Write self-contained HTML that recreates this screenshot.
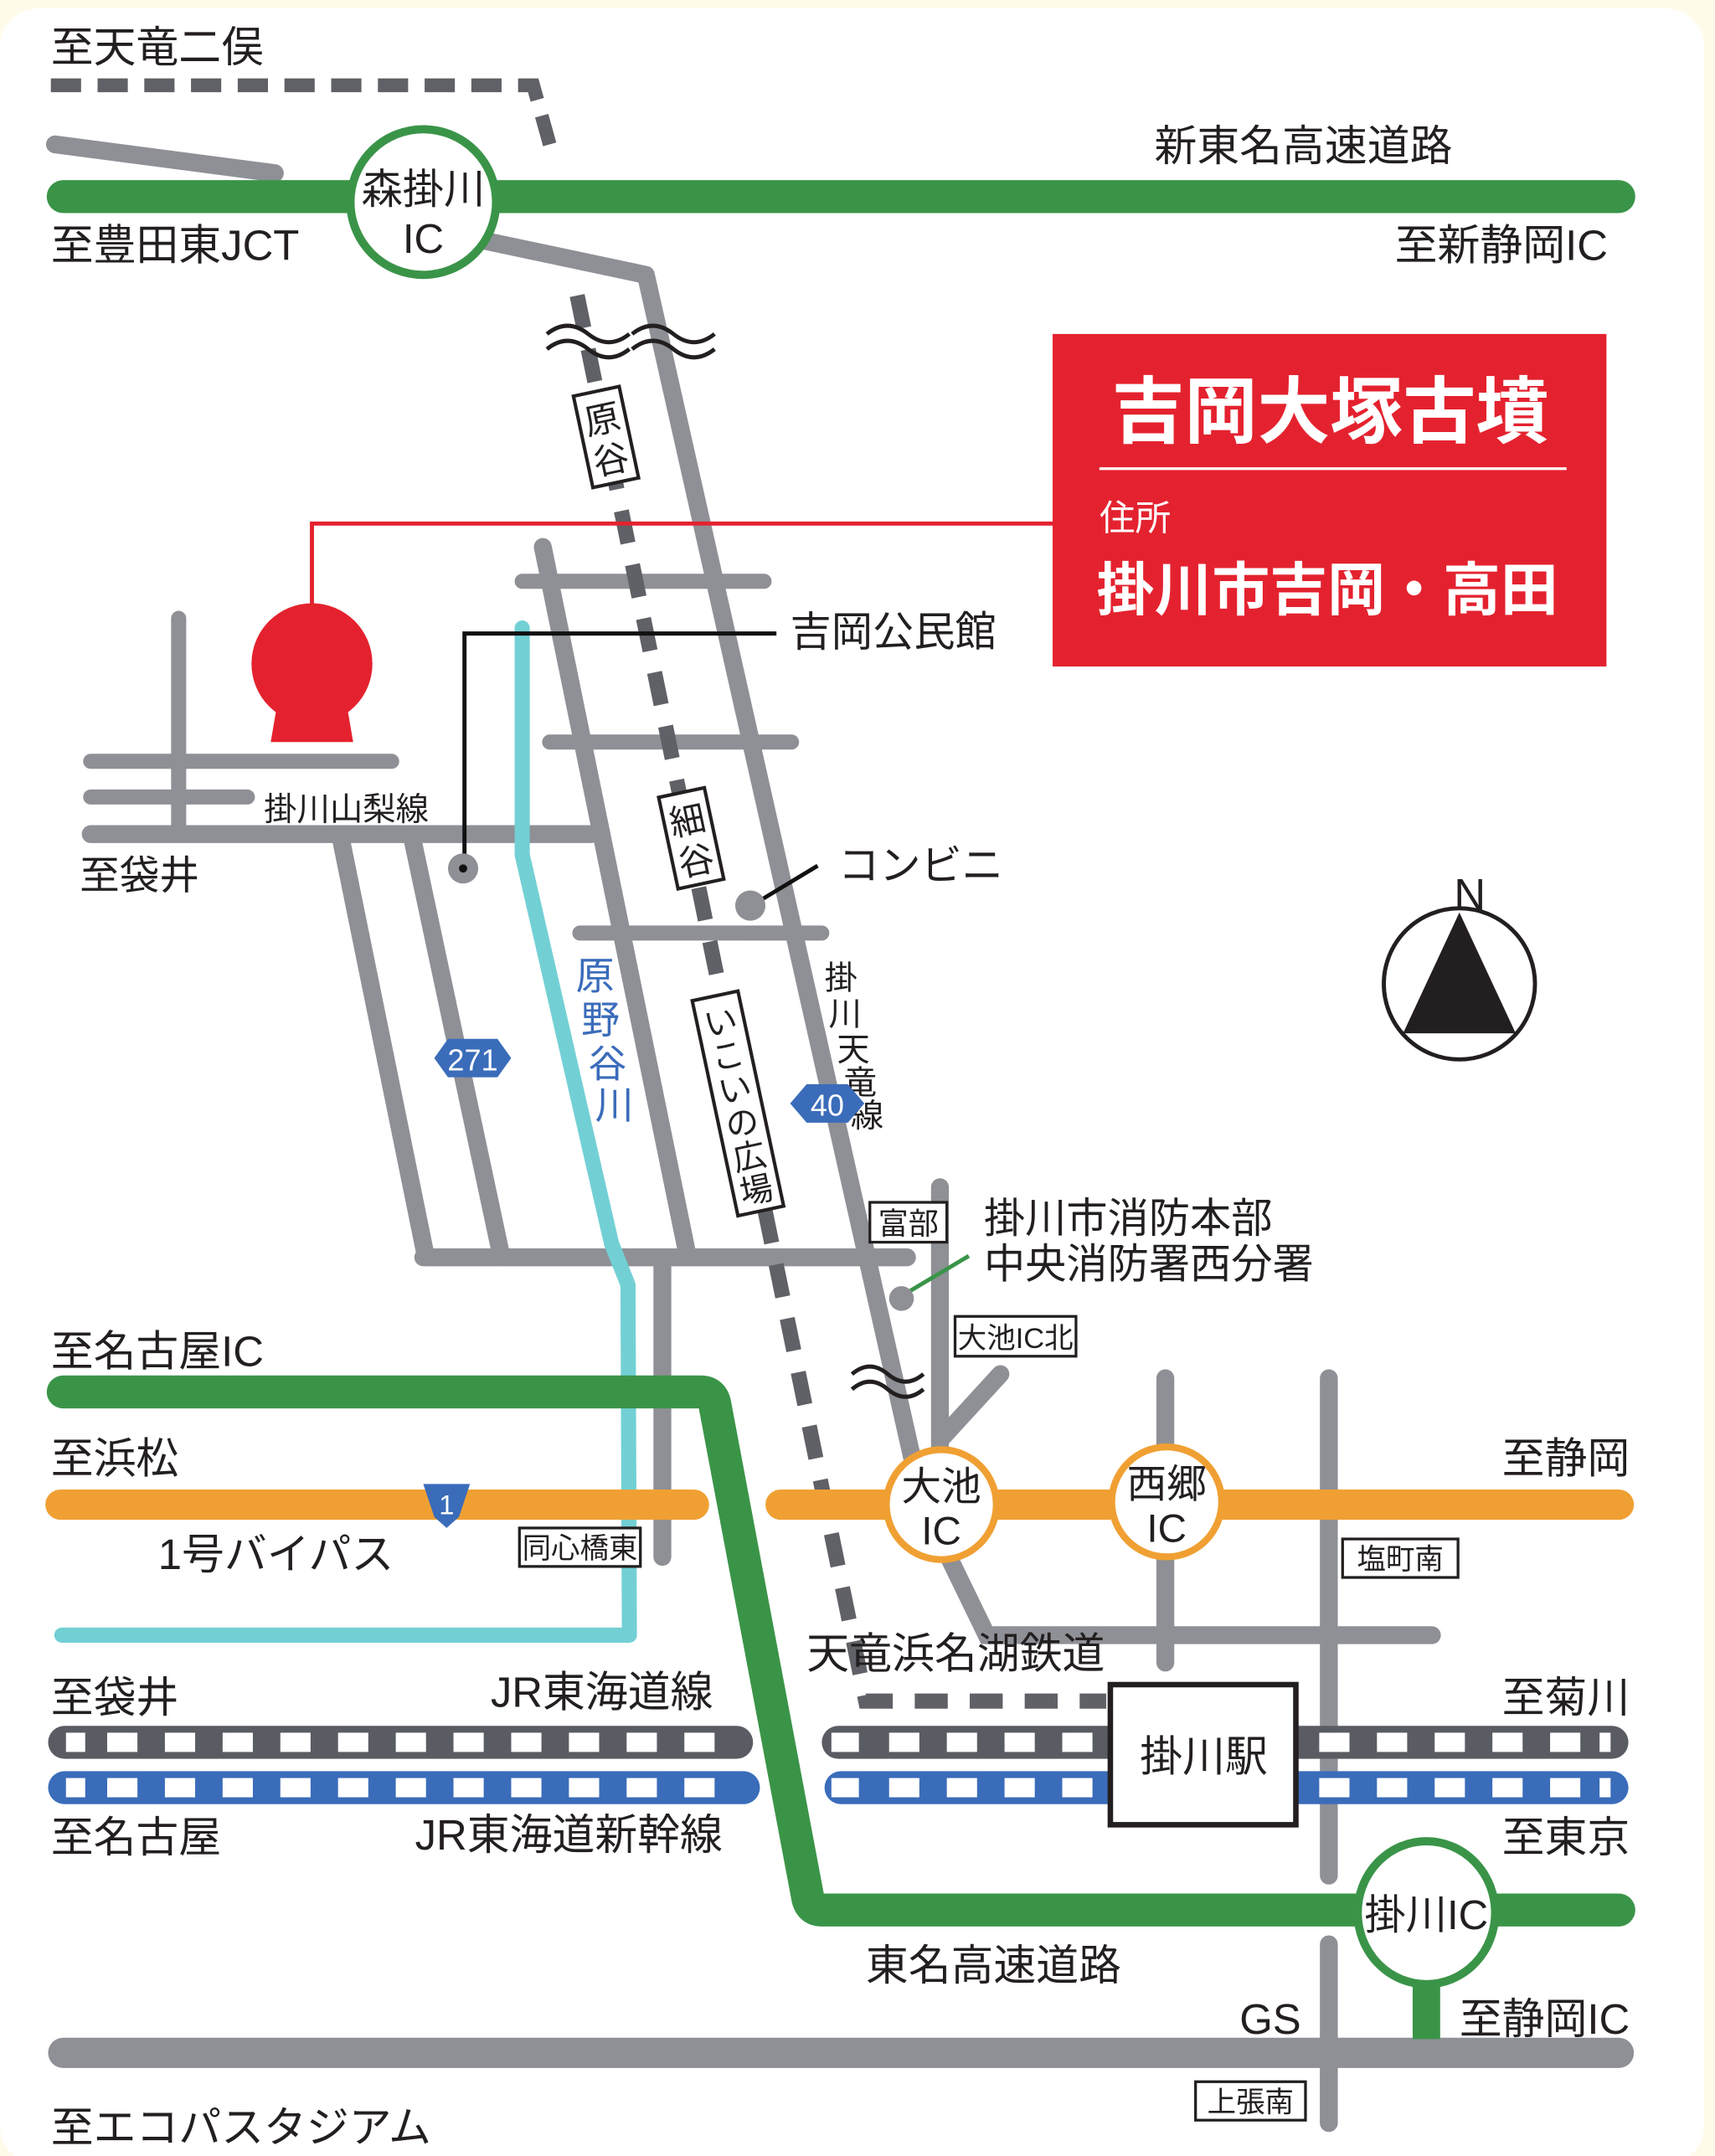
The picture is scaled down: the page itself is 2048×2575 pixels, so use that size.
<!DOCTYPE html>
<html><head><meta charset="utf-8"><style>
html,body{margin:0;padding:0;background:#fff;}
svg{display:block;}
text{font-family:"Liberation Sans","Noto Sans CJK JP",sans-serif;fill:#231f20;}
</style></head><body>
<svg width="2048" height="2575" viewBox="0 0 1248 1569" xmlns="http://www.w3.org/2000/svg">
<rect x="0" y="0" width="1248" height="1569" fill="#fffbea"/>
<rect x="0" y="6" width="1240" height="1569" rx="28" fill="#fff"/>

<polyline points="37,62 388,62 400,105" fill="none" stroke="#5f6166" stroke-width="10" stroke-dasharray="22 12"/>
<line x1="40" y1="105" x2="200" y2="126" stroke="#8e9096" stroke-width="13" stroke-linecap="round"/>

<polyline points="352,175 470,200 664,1062" fill="none" stroke="#8e9096" stroke-width="13" stroke-linejoin="round"/>
<polyline points="684,1120 718,1190 1042,1190" fill="none" stroke="#8e9096" stroke-width="13" stroke-linecap="round"/>

<g stroke="#8e9096" stroke-width="11" stroke-linecap="round">
<line x1="380" y1="423" x2="556" y2="423"/>
<line x1="400" y1="540" x2="576" y2="540"/>
<line x1="422" y1="679" x2="598" y2="679"/>
<line x1="130" y1="450" x2="130" y2="605"/>
<line x1="66" y1="554" x2="285" y2="554"/>
<line x1="66" y1="580" x2="180" y2="580"/>
</g>
<g stroke="#8e9096" stroke-width="13" stroke-linecap="round">
<line x1="66" y1="607" x2="430" y2="607"/>
<line x1="248" y1="610" x2="310" y2="915"/>
<line x1="300" y1="610" x2="365" y2="915"/>
<line x1="395" y1="398" x2="500" y2="912"/>
<line x1="308" y1="915" x2="660" y2="915"/>
<line x1="482" y1="915" x2="482" y2="1133"/>
<line x1="684" y1="864" x2="684" y2="1090"/>
<line x1="684" y1="1048" x2="728" y2="1000"/>
<line x1="848" y1="1003" x2="848" y2="1210"/>
<line x1="967" y1="1003" x2="967" y2="1365"/>
<line x1="967" y1="1415" x2="967" y2="1545"/>
</g>

<polyline points="380,457 380,622 445,905 457,935 458,1190 45,1190" fill="none" stroke="#72d0d4" stroke-width="11" stroke-linejoin="round" stroke-linecap="round"/>

<polyline points="420,215 630,1238 805,1238" fill="none" stroke="#5f6166" stroke-width="11" stroke-dasharray="24 16"/>

<g fill="none" stroke="#231f20" stroke-width="3">
<path d="M398,243 q15,-12 30,0 t30,0"/><path d="M398,254 q15,-12 30,0 t30,0"/>
<path d="M460,243 q15,-12 30,0 t30,0"/><path d="M460,254 q15,-12 30,0 t30,0"/>
<path d="M620,1000 q13,-11 26,0 t26,0"/><path d="M620,1011 q13,-11 26,0 t26,0"/>
</g>

<g transform="translate(441,318) rotate(-12)"><rect x="-17" y="-34" width="34" height="68" fill="#fff" stroke="#231f20" stroke-width="2.5"/><text x="0" y="-4" font-size="26" text-anchor="middle">原</text><text x="0" y="26" font-size="26" text-anchor="middle">谷</text></g>
<g transform="translate(503,610) rotate(-12)"><rect x="-17" y="-34" width="34" height="68" fill="#fff" stroke="#231f20" stroke-width="2.5"/><text x="0" y="-4" font-size="26" text-anchor="middle">細</text><text x="0" y="26" font-size="26" text-anchor="middle">谷</text></g>
<g transform="translate(537,803) rotate(-12)"><rect x="-17" y="-80" width="34" height="160" fill="#fff" stroke="#231f20" stroke-width="2.5"/>
<text x="0" y="-52" font-size="24" text-anchor="middle">い</text><text x="0" y="-27" font-size="24" text-anchor="middle">こ</text><text x="0" y="-2" font-size="24" text-anchor="middle">い</text><text x="0" y="23" font-size="24" text-anchor="middle">の</text><text x="0" y="48" font-size="24" text-anchor="middle">広</text><text x="0" y="73" font-size="24" text-anchor="middle">場</text></g>

<g font-size="28">
<text x="419" y="720" style="fill:#3a6cba">原</text><text x="423" y="752" style="fill:#3a6cba">野</text><text x="428" y="784" style="fill:#3a6cba">谷</text><text x="433" y="814" style="fill:#3a6cba">川</text>
</g>
<g font-size="24"><text x="600" y="720">掛</text><text x="603" y="746">川</text><text x="609" y="772">天</text><text x="614" y="796">竜</text><text x="619" y="820">線</text></g>

<polygon points="316,770 326,756 362,756 372,770 362,784 326,784" fill="#3a6cba"/>
<text x="344" y="779" font-size="22" text-anchor="middle" style="fill:#fff">271</text>
<polygon points="575,803 587,789 617,789 629,803 617,817 587,817" fill="#3a6cba"/>
<text x="602" y="812" font-size="22" text-anchor="middle" style="fill:#fff">40</text>

<polyline points="565,461 338,461 338,630" fill="none" stroke="#111" stroke-width="3"/>
<circle cx="337" cy="632" r="11" fill="#8e9096"/><circle cx="337" cy="632" r="3" fill="#111"/>
<line x1="595" y1="630" x2="547" y2="659" stroke="#111" stroke-width="3"/>
<circle cx="546" cy="659" r="11" fill="#8e9096"/>
<text x="575" y="470" font-size="30">吉岡公民館</text>
<text x="610" y="640" font-size="30">コンビニ</text>
<text x="192" y="597" font-size="24">掛川山梨線</text>
<text x="58" y="647" font-size="29">至袋井</text>

<polyline points="227,442 227,381 770,381" fill="none" stroke="#e4222f" stroke-width="3"/>
<circle cx="227" cy="483" r="44" fill="#e4222f"/>
<polygon points="203,505 251,505 257,540 197,540" fill="#e4222f"/>
<rect x="766" y="243" width="403" height="242" fill="#e4222f"/>
<text x="968" y="318" font-size="53" font-weight="bold" text-anchor="middle" style="fill:#fff">吉岡大塚古墳</text>
<line x1="800" y1="341" x2="1140" y2="341" stroke="#fff" stroke-width="2"/>
<text x="800" y="386" font-size="26" style="fill:#fff">住所</text>
<text x="798" y="444" font-size="42" font-weight="bold" style="fill:#fff">掛川市吉岡・高田</text>

<circle cx="1062" cy="716" r="55" fill="#fff" stroke="#231f20" stroke-width="3"/>
<polygon points="1062,664 1021,752 1103,752" fill="#231f20"/>
<text x="1058" y="662" font-size="32">N</text>

<rect x="633" y="875" width="56" height="29" fill="#fff" stroke="#231f20" stroke-width="2"/>
<text x="661" y="898" font-size="22" text-anchor="middle">富部</text>
<line x1="705" y1="914" x2="658" y2="942" stroke="#3a9448" stroke-width="3"/>
<circle cx="656" cy="945" r="9" fill="#8e9096"/>
<text x="716" y="897" font-size="30">掛川市消防本部</text>
<text x="716" y="930" font-size="30">中央消防署西分署</text>
<rect x="695" y="958" width="88" height="29" fill="#fff" stroke="#231f20" stroke-width="2"/>
<text x="739" y="981" font-size="21" text-anchor="middle">大池IC北</text>

<g stroke="#f0a033" stroke-width="22" stroke-linecap="round">
<line x1="44" y1="1095" x2="505" y2="1095"/>
<line x1="568" y1="1095" x2="1178" y2="1095"/>
</g>
<polygon points="308,1080 342,1080 334,1104 325,1112 316,1104" fill="#3a6cba"/>
<text x="325" y="1102" font-size="20" text-anchor="middle" style="fill:#fff">1</text>

<g>
<rect x="35" y="1256" width="513" height="24" rx="12" fill="#5a5c63"/>
<rect x="598" y="1256" width="587" height="24" rx="12" fill="#5a5c63"/>
<rect x="35" y="1289" width="518" height="24" rx="12" fill="#3a6cba"/>
<rect x="600" y="1289" width="585" height="24" rx="12" fill="#3a6cba"/>
<g fill="#fff">
<rect x="48" y="1261" width="14" height="14"/><rect x="78" y="1261" width="22" height="14"/><rect x="120" y="1261" width="22" height="14"/><rect x="162" y="1261" width="22" height="14"/><rect x="204" y="1261" width="22" height="14"/><rect x="246" y="1261" width="22" height="14"/><rect x="288" y="1261" width="22" height="14"/><rect x="330" y="1261" width="22" height="14"/><rect x="372" y="1261" width="22" height="14"/><rect x="414" y="1261" width="22" height="14"/><rect x="456" y="1261" width="22" height="14"/><rect x="498" y="1261" width="22" height="14"/>
<rect x="48" y="1294" width="14" height="14"/><rect x="78" y="1294" width="22" height="14"/><rect x="120" y="1294" width="22" height="14"/><rect x="162" y="1294" width="22" height="14"/><rect x="204" y="1294" width="22" height="14"/><rect x="246" y="1294" width="22" height="14"/><rect x="288" y="1294" width="22" height="14"/><rect x="330" y="1294" width="22" height="14"/><rect x="372" y="1294" width="22" height="14"/><rect x="414" y="1294" width="22" height="14"/><rect x="456" y="1294" width="22" height="14"/><rect x="498" y="1294" width="22" height="14"/>
<rect x="605" y="1261" width="20" height="14"/><rect x="647" y="1261" width="22" height="14"/><rect x="689" y="1261" width="22" height="14"/><rect x="731" y="1261" width="22" height="14"/><rect x="773" y="1261" width="22" height="14"/>
<rect x="605" y="1294" width="20" height="14"/><rect x="647" y="1294" width="22" height="14"/><rect x="689" y="1294" width="22" height="14"/><rect x="731" y="1294" width="22" height="14"/><rect x="773" y="1294" width="22" height="14"/>
<rect x="960" y="1261" width="22" height="14"/><rect x="1002" y="1261" width="22" height="14"/><rect x="1044" y="1261" width="22" height="14"/><rect x="1086" y="1261" width="22" height="14"/><rect x="1128" y="1261" width="22" height="14"/><rect x="1164" y="1261" width="8" height="14"/>
<rect x="960" y="1294" width="22" height="14"/><rect x="1002" y="1294" width="22" height="14"/><rect x="1044" y="1294" width="22" height="14"/><rect x="1086" y="1294" width="22" height="14"/><rect x="1128" y="1294" width="22" height="14"/><rect x="1164" y="1294" width="8" height="14"/>
</g>
</g>
<rect x="808" y="1226" width="135" height="102" fill="#fff" stroke="#231f20" stroke-width="4"/>
<text x="876" y="1289" font-size="31" text-anchor="middle">掛川駅</text>

<line x1="46" y1="1494" x2="1178" y2="1494" stroke="#8e9096" stroke-width="22" stroke-linecap="round"/>
<line x1="967" y1="1480" x2="967" y2="1545" stroke="#8e9096" stroke-width="13" stroke-linecap="round"/>

<line x1="46" y1="143" x2="1178" y2="143" stroke="#3a9448" stroke-width="24" stroke-linecap="round"/>
<path d="M46,1013 L510,1013 Q518,1013 520,1021 L588,1382 Q590,1390 598,1390 L1178,1390" fill="none" stroke="#3a9448" stroke-width="24" stroke-linecap="round" stroke-linejoin="round"/>
<line x1="1038" y1="1440" x2="1038" y2="1484" stroke="#3a9448" stroke-width="20"/>

<circle cx="308" cy="147" r="53" fill="#fff" stroke="#3a9448" stroke-width="6"/>
<text x="308" y="148" font-size="30" text-anchor="middle">森掛川</text>
<text x="308" y="184" font-size="30" text-anchor="middle">IC</text>
<circle cx="685" cy="1095" r="40" fill="#fff" stroke="#f0a033" stroke-width="5"/>
<text x="685" y="1092" font-size="29" text-anchor="middle">大池</text>
<text x="685" y="1124" font-size="29" text-anchor="middle">IC</text>
<circle cx="849" cy="1093" r="40" fill="#fff" stroke="#f0a033" stroke-width="5"/>
<text x="849" y="1090" font-size="29" text-anchor="middle">西郷</text>
<text x="849" y="1122" font-size="29" text-anchor="middle">IC</text>
<ellipse cx="1038" cy="1392" rx="50" ry="52" fill="#fff" stroke="#3a9448" stroke-width="6"/>
<text x="1038" y="1404" font-size="30" text-anchor="middle">掛川IC</text>

<rect x="378" y="1112" width="88" height="28" fill="#fff" stroke="#231f20" stroke-width="2"/>
<text x="422" y="1134" font-size="21" text-anchor="middle">同心橋東</text>
<rect x="977" y="1120" width="84" height="28" fill="#fff" stroke="#231f20" stroke-width="2"/>
<text x="1019" y="1142" font-size="21" text-anchor="middle">塩町南</text>
<rect x="870" y="1515" width="80" height="28" fill="#fff" stroke="#231f20" stroke-width="2"/>
<text x="910" y="1537" font-size="21" text-anchor="middle">上張南</text>

<g font-size="31">
<text x="37" y="45">至天竜二俣</text>
<text x="840" y="117">新東名高速道路</text>
<text x="37" y="189">至豊田東JCT</text>
<text x="1015" y="189">至新静岡IC</text>
<text x="37" y="994">至名古屋IC</text>
<text x="37" y="1072">至浜松</text>
<text x="115" y="1142">1号バイパス</text>
<text x="1093" y="1072">至静岡</text>
<text x="587" y="1214">天竜浜名湖鉄道</text>
<text x="37" y="1246">至袋井</text>
<text x="357" y="1242">JR東海道線</text>
<text x="1093" y="1246">至菊川</text>
<text x="37" y="1348">至名古屋</text>
<text x="302" y="1346">JR東海道新幹線</text>
<text x="1093" y="1348">至東京</text>
<text x="630" y="1441">東名高速道路</text>
<text x="902" y="1480">GS</text>
<text x="1062" y="1480">至静岡IC</text>
<text x="37" y="1559">至エコパスタジアム</text>
</g>
</svg>
</body></html>
